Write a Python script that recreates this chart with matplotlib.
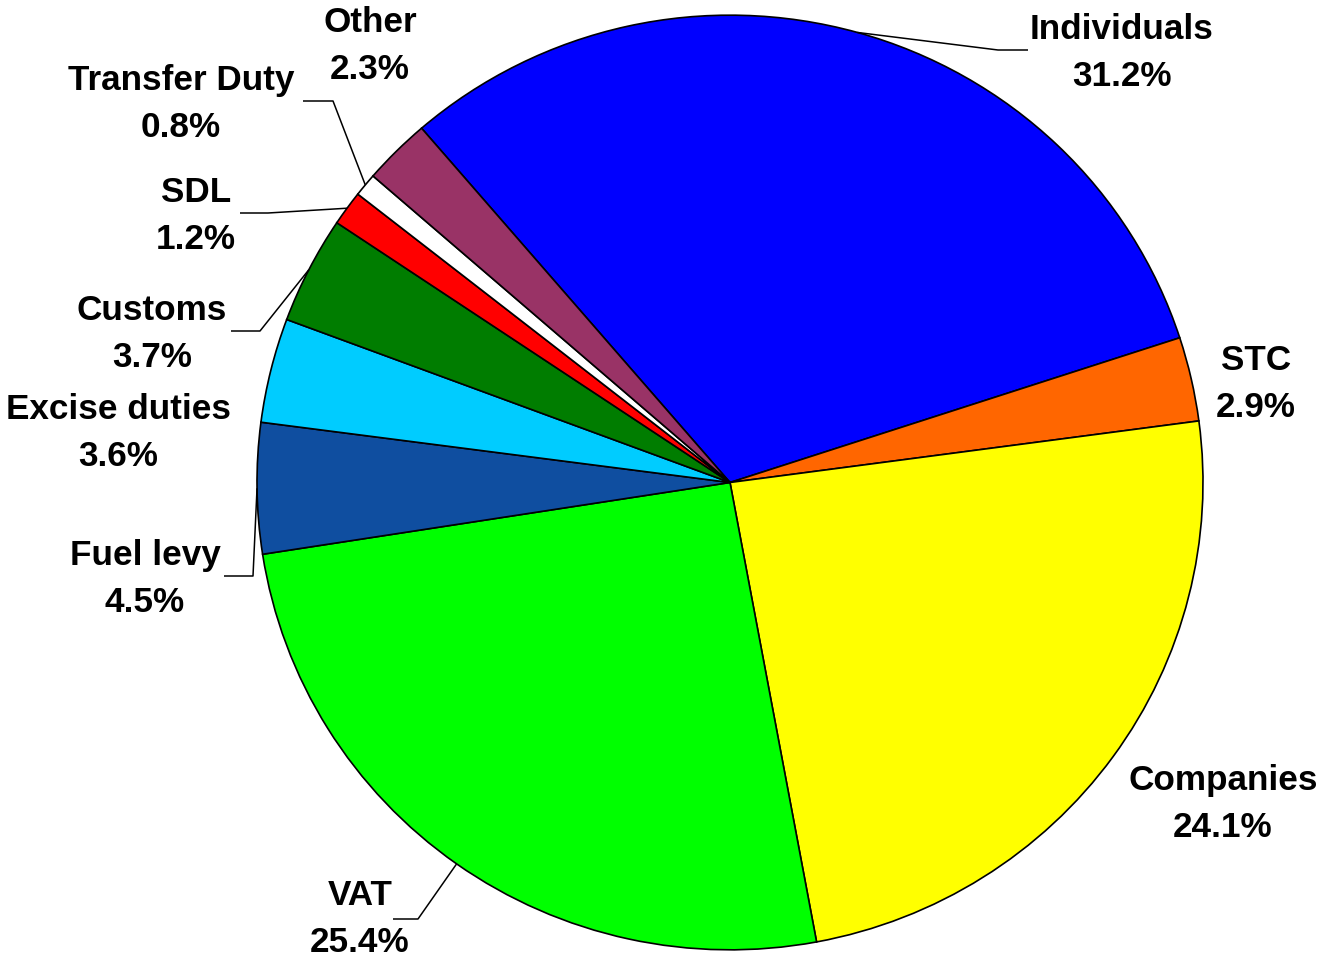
import matplotlib
matplotlib.use("Agg")
import matplotlib.pyplot as plt
import numpy as np

categories = ["Individuals", "STC", "Companies", "VAT", "Fuel levy",
              "Excise duties", "Customs", "SDL", "Transfer Duty", "Other"]
values = [31.2, 2.9, 24.1, 25.4, 4.5, 3.6, 3.7, 1.2, 0.8, 2.3]
colors = ["#0000FF", "#FF6600", "#FFFF00", "#00FF00", "#0F4EA0",
          "#00CCFF", "#007D00", "#FF0000", "#FFFFFF", "#993366"]

W, H = 1326, 958
YS = 0.988  # vertical squash of the pie

fig = plt.figure(figsize=(W / 100, H / 100), dpi=100)
ax = fig.add_axes([0, 0, 1, 1])

def px(x, y):
    return x, (H - y) / YS

cx, cy = px(730, 482.5)
R = 473
wedges, _ = ax.pie(values, colors=colors, startangle=130.7, counterclock=False,
                   center=(cx, cy), radius=R,
                   wedgeprops=dict(edgecolor="black", linewidth=1.2, antialiased=True))
ax.set_aspect("auto")
ax.set_xlim(0, W)
ax.set_ylim(0, H / YS)
ax.axis("off")

# label text positions (pixel coords of block center) and optional leader elbows
label_pos = {
    "Individuals": (1122, 53), "STC": (1256, 384), "Companies": (1223, 804),
    "VAT": (360, 919), "Fuel levy": (145, 579), "Excise duties": (118, 433),
    "Customs": (152, 334), "SDL": (196, 216), "Transfer Duty": (181, 104),
    "Other": (370, 46),
}
leaders = {
    "Individuals": [(1028, 50), (998, 50)],
    "VAT": [(393, 919), (418, 919)],
    "Fuel levy": [(224, 576), (253, 576)],
    "Customs": [(231, 331), (260, 331)],
    "SDL": [(240, 213), (268, 213)],
    "Transfer Duty": [(303, 101), (333, 101)],
}

fs = 25.3
for w, cat, v in zip(wedges, categories, values):
    tx, ty = label_pos[cat]
    ax.text(*px(tx, ty), f"{cat}\n{v:.1f}%", ha="center", va="center",
            fontsize=fs, fontweight="bold", family="Liberation Sans",
            linespacing=1.55, color="black")
    if cat in leaders:
        mid = np.deg2rad((w.theta1 + w.theta2) / 2)
        ex = cx + R * np.cos(mid)
        ey = cy + R * np.sin(mid)
        pts = [px(*p) for p in leaders[cat]]
        xs = [p[0] for p in pts] + [ex]
        ys = [p[1] for p in pts] + [ey]
        ax.plot(xs, ys, color="black", linewidth=1.1, solid_capstyle="butt")

fig.savefig("out.png", dpi=100, facecolor="white")
